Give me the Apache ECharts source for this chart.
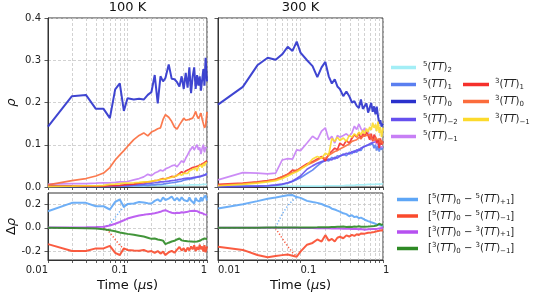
<!DOCTYPE html>
<html><head><meta charset="utf-8">
<script src="https://cdn.jsdelivr.net/npm/echarts@6.0.0/dist/echarts.min.js"></script>
<style>html,body{margin:0;padding:0;background:#fff}#c{width:536px;height:297px}</style>
</head><body><div id="c"></div>
<script>
// ---------------- data ----------------
const T = [0.01,0.02,0.03,0.04,0.05,0.06,0.07,0.08,0.09,0.10,
           0.12,0.14,0.16,0.18,0.20,0.22,0.24,0.26,0.28,0.30,
           0.33,0.36,0.39,0.42,0.45,0.48,0.51,0.54,0.57,0.60,
           0.63,0.66,0.69,0.72,0.75,0.78,0.81,0.84,0.87,0.90,
           0.93,0.96,1.00];
const X_MAJOR = [0.01, 0.1, 1];
const X_ALL = [0.01,0.02,0.03,0.04,0.05,0.06,0.07,0.08,0.09,0.1,0.2,0.3,0.4,0.5,0.6,0.7,0.8,0.9,1];
const Y_TOP_TICKS = [0, 0.1, 0.2, 0.3, 0.4];
const Y_BOT_TICKS = [-0.2, 0, 0.2];
const TITLES = ['100 K', '300 K'];

// 100 K populations
const p100_5TT2 = [0.002,0.002,0.002,0.002,0.002,0.002,0.002,0.002,0.002,0.002,
 0.002,0.002,0.002,0.003,0.003,0.003,0.003,0.003,0.003,0.003,
 0.003,0.003,0.003,0.004,0.004,0.004,0.004,0.004,0.004,0.004,
 0.005,0.005,0.005,0.005,0.005,0.005,0.005,0.005,0.006,0.006,
 0.006,0.006,0.006];
const p100_5TT1 = [0.001,0.001,0.001,0.001,0.001,0.001,0.002,0.002,0.002,0.002,
 0.003,0.003,0.004,0.004,0.005,0.005,0.006,0.006,0.007,0.008,
 0.009,0.010,0.011,0.012,0.013,0.014,0.016,0.015,0.018,0.020,
 0.019,0.022,0.021,0.024,0.023,0.026,0.024,0.028,0.026,0.030,
 0.028,0.032,0.033];
const p100_5TT0 = [0.143,0.215,0.218,0.185,0.185,0.163,0.231,0.245,0.180,0.210,
 0.207,0.209,0.207,0.218,0.225,0.265,0.198,0.262,0.250,0.258,
 0.290,0.256,0.255,0.248,0.238,0.262,0.232,0.270,0.235,0.283,
 0.222,0.262,0.283,0.232,0.265,0.240,0.262,0.228,0.255,0.279,
 0.240,0.306,0.250];
const p100_5TTm2 = [0.002,0.002,0.002,0.003,0.003,0.003,0.003,0.003,0.004,0.004,
 0.005,0.006,0.007,0.008,0.009,0.010,0.011,0.012,0.012,0.013,
 0.014,0.015,0.016,0.017,0.018,0.019,0.020,0.019,0.021,0.022,
 0.021,0.024,0.023,0.025,0.024,0.027,0.025,0.028,0.027,0.030,
 0.028,0.031,0.030];
const p100_5TTm1 = [0.007,0.008,0.008,0.009,0.010,0.010,0.011,0.012,0.012,0.013,
 0.017,0.020,0.024,0.030,0.027,0.033,0.036,0.040,0.038,0.043,
 0.046,0.050,0.052,0.048,0.055,0.062,0.058,0.068,0.076,0.084,
 0.080,0.096,0.088,0.092,0.100,0.088,0.094,0.078,0.092,0.100,
 0.082,0.094,0.092];
const p100_3TT1 = [0.002,0.002,0.002,0.002,0.002,0.003,0.003,0.004,0.005,0.006,
 0.007,0.009,0.010,0.012,0.013,0.015,0.016,0.018,0.020,0.019,
 0.022,0.025,0.024,0.028,0.032,0.036,0.033,0.038,0.036,0.042,
 0.040,0.046,0.044,0.048,0.046,0.050,0.047,0.053,0.050,0.056,
 0.052,0.060,0.062];
const p100_3TT0 = [0.005,0.015,0.020,0.026,0.033,0.046,0.064,0.076,0.086,0.096,
 0.112,0.122,0.128,0.121,0.130,0.134,0.138,0.140,0.160,0.171,
 0.165,0.155,0.142,0.137,0.147,0.155,0.163,0.158,0.156,0.160,
 0.158,0.163,0.170,0.179,0.168,0.162,0.168,0.175,0.160,0.162,
 0.140,0.145,0.178];
const p100_3TTm1 = [0.001,0.002,0.003,0.003,0.004,0.006,0.007,0.008,0.009,0.009,
 0.010,0.011,0.012,0.012,0.014,0.015,0.016,0.018,0.018,0.020,
 0.021,0.023,0.025,0.027,0.030,0.028,0.033,0.035,0.032,0.038,
 0.036,0.042,0.040,0.045,0.038,0.048,0.044,0.052,0.046,0.055,
 0.050,0.058,0.057];

// 300 K populations
const p300_5TT2 = [0.002,0.002,0.002,0.002,0.002,0.002,0.002,0.002,0.002,0.002,
 0.002,0.002,0.002,0.002,0.003,0.003,0.003,0.003,0.003,0.003,
 0.003,0.004,0.004,0.004,0.004,0.005,0.005,0.005,0.005,0.005,
 0.006,0.006,0.006,0.006,0.006,0.006,0.007,0.007,0.007,0.007,
 0.007,0.007,0.008];
const p300_5TT1 = [0.001,0.002,0.002,0.003,0.004,0.006,0.009,0.013,0.018,0.022,
 0.032,0.040,0.050,0.058,0.064,0.062,0.070,0.066,0.074,0.072,
 0.078,0.074,0.082,0.079,0.086,0.082,0.090,0.086,0.094,0.090,
 0.098,0.094,0.100,0.096,0.102,0.092,0.100,0.086,0.098,0.084,
 0.096,0.088,0.094];
const p300_5TT0 = [0.195,0.237,0.288,0.306,0.301,0.314,0.332,0.322,0.344,0.318,
 0.300,0.286,0.260,0.283,0.296,0.262,0.245,0.255,0.238,0.232,
 0.215,0.226,0.215,0.200,0.203,0.192,0.187,0.207,0.185,0.183,
 0.198,0.176,0.172,0.199,0.178,0.191,0.172,0.190,0.168,0.150,
 0.158,0.143,0.150];
const p300_5TTm2 = [0.001,0.001,0.002,0.003,0.005,0.007,0.010,0.014,0.020,0.026,
 0.042,0.050,0.056,0.060,0.062,0.066,0.064,0.070,0.068,0.074,
 0.076,0.080,0.078,0.084,0.082,0.088,0.086,0.092,0.090,0.096,
 0.094,0.100,0.098,0.104,0.100,0.106,0.102,0.108,0.104,0.110,
 0.102,0.108,0.104];
const p300_5TTm1 = [0.017,0.034,0.033,0.031,0.033,0.064,0.067,0.066,0.088,0.086,
 0.104,0.120,0.112,0.132,0.140,0.112,0.120,0.104,0.122,0.118,
 0.122,0.126,0.120,0.128,0.144,0.136,0.149,0.138,0.132,0.140,
 0.126,0.132,0.118,0.122,0.112,0.118,0.106,0.110,0.100,0.104,
 0.096,0.100,0.094];
const p300_3TT1 = [0.006,0.009,0.012,0.015,0.018,0.024,0.030,0.040,0.038,0.045,
 0.055,0.060,0.066,0.072,0.062,0.078,0.085,0.092,0.088,0.104,
 0.098,0.110,0.104,0.115,0.124,0.118,0.128,0.114,0.126,0.120,
 0.130,0.122,0.112,0.126,0.108,0.124,0.118,0.104,0.112,0.092,
 0.115,0.100,0.108];
const p300_3TT0 = [0.004,0.008,0.011,0.014,0.018,0.024,0.030,0.034,0.040,0.044,
 0.052,0.058,0.064,0.070,0.068,0.075,0.080,0.084,0.086,0.090,
 0.094,0.098,0.102,0.108,0.110,0.112,0.118,0.114,0.120,0.116,
 0.122,0.118,0.124,0.116,0.120,0.110,0.118,0.112,0.108,0.114,
 0.104,0.110,0.102];
const p300_3TTm1 = [0.003,0.006,0.009,0.012,0.015,0.020,0.026,0.032,0.036,0.042,
 0.052,0.066,0.072,0.068,0.080,0.076,0.115,0.108,0.118,0.110,
 0.116,0.108,0.122,0.118,0.126,0.120,0.130,0.124,0.134,0.126,
 0.138,0.130,0.142,0.135,0.152,0.140,0.148,0.132,0.155,0.128,
 0.142,0.118,0.140];

// 100 K differences
const d100_5p = [0.143,0.215,0.215,0.186,0.186,0.158,0.223,0.244,0.180,0.205,
 0.210,0.222,0.218,0.212,0.210,0.232,0.245,0.226,0.262,0.240,
 0.252,0.270,0.235,0.258,0.232,0.262,0.240,0.255,0.228,0.262,
 0.236,0.252,0.210,0.258,0.236,0.250,0.226,0.262,0.230,0.255,
 0.238,0.280,0.236];
const d100_5m = [-0.140,-0.200,-0.200,-0.177,-0.177,-0.155,-0.215,-0.234,-0.177,-0.190,
 -0.195,-0.198,-0.190,-0.205,-0.200,-0.215,-0.200,-0.222,-0.205,-0.235,
 -0.210,-0.198,-0.215,-0.188,-0.165,-0.195,-0.175,-0.205,-0.170,-0.195,
 -0.160,-0.185,-0.150,-0.200,-0.165,-0.190,-0.145,-0.185,-0.160,-0.205,
 -0.150,-0.210,-0.160];
const d100_3p = [0.002,0.003,0.005,0.007,0.010,0.020,0.035,0.050,0.065,0.080,
 0.096,0.106,0.112,0.118,0.122,0.126,0.132,0.138,0.148,0.152,
 0.140,0.130,0.126,0.130,0.128,0.134,0.132,0.140,0.138,0.142,
 0.146,0.150,0.148,0.156,0.144,0.150,0.132,0.138,0.126,0.130,
 0.116,0.110,0.112];
const d100_3m = [0.000,-0.002,-0.004,-0.006,-0.012,-0.020,-0.030,-0.040,-0.046,-0.052,
 -0.060,-0.068,-0.075,-0.085,-0.095,-0.092,-0.100,-0.104,-0.110,-0.140,
 -0.128,-0.118,-0.112,-0.100,-0.092,-0.108,-0.112,-0.120,-0.116,-0.124,
 -0.118,-0.126,-0.120,-0.132,-0.118,-0.128,-0.112,-0.124,-0.100,-0.110,
 -0.092,-0.104,-0.096];
const T_dot100 = [0.05,0.06,0.07,0.08,0.09,0.10];
const d100_5p_dot = [0.000,0.030,0.090,0.140,0.180,0.205];
const d100_5m_dot = [0.000,-0.040,-0.100,-0.150,-0.180,-0.190];

// 300 K differences
const d300_5p = [0.166,0.203,0.230,0.250,0.262,0.272,0.280,0.282,0.265,0.258,
 0.232,0.222,0.215,0.205,0.190,0.182,0.165,0.158,0.148,0.140,
 0.125,0.118,0.100,0.108,0.092,0.098,0.082,0.088,0.072,0.070,
 0.064,0.058,0.055,0.048,0.045,0.040,0.036,0.030,0.034,0.025,
 0.028,0.018,0.015];
const d300_5m = [-0.163,-0.190,-0.234,-0.254,-0.243,-0.235,-0.230,-0.240,-0.249,-0.205,
 -0.145,-0.130,-0.100,-0.118,-0.063,-0.110,-0.095,-0.118,-0.085,-0.077,
 -0.090,-0.065,-0.075,-0.060,-0.070,-0.055,-0.062,-0.048,-0.058,-0.050,
 -0.060,-0.042,-0.055,-0.040,-0.048,-0.035,-0.045,-0.030,-0.038,-0.025,
 -0.032,-0.020,-0.022];
const d300_3p = [0.000,0.000,0.000,0.000,0.000,0.000,0.000,0.000,0.000,-0.001,
 -0.002,-0.002,-0.003,-0.003,-0.004,-0.004,-0.005,-0.005,-0.006,-0.006,
 -0.007,-0.008,-0.008,-0.009,-0.010,-0.010,-0.012,-0.011,-0.014,-0.016,
 -0.014,-0.012,-0.013,-0.011,-0.012,-0.010,-0.008,-0.009,-0.006,-0.005,
 -0.004,-0.002,0.000];
const d300_3m = [0.000,0.001,0.001,0.002,0.002,0.002,0.002,0.002,0.002,0.002,
 0.003,0.003,0.004,0.005,0.005,0.006,0.008,0.007,0.009,0.010,
 0.012,0.008,0.010,0.007,0.012,0.010,0.013,0.009,0.012,0.010,
 0.014,0.012,0.016,0.014,0.018,0.016,0.022,0.020,0.028,0.035,
 0.030,0.026,0.030];
const T_dot300 = [0.05,0.06,0.07,0.08,0.09];
const d300_5p_dot = [0.005,0.120,0.190,0.235,0.262];
const d300_5m_dot = [-0.005,-0.090,-0.160,-0.210,-0.245];

// legend labels (rich text)
const SUP = (s) => '{s|' + s + '}';
const SUB = (s) => '{b|' + s + '}';
const TT = (m, k) => SUP(m) + '{n|(}{i|TT}{n|)}' + SUB(k);
const LABELS = {
  '5TT2': TT('5','2'), '5TT1': TT('5','1'), '5TT0': TT('5','0'),
  '5TTm2': TT('5','\u22122'), '5TTm1': TT('5','\u22121'),
  '3TT1': TT('3','1'), '3TT0': TT('3','0'), '3TTm1': TT('3','\u22121'),
  'd5p': '{n|[}' + TT('5','0') + '{n| \u2212 }' + TT('5','+1') + '{n|]}',
  'd5m': '{n|[}' + TT('5','0') + '{n| \u2212 }' + TT('5','\u22121') + '{n|]}',
  'd3p': '{n|[}' + TT('3','0') + '{n| \u2212 }' + TT('3','+1') + '{n|]}',
  'd3m': '{n|[}' + TT('3','0') + '{n| \u2212 }' + TT('3','\u22121') + '{n|]}'
};
const COLORS = {
  '5TT2':'#a3eef6', '5TT1':'#5a7ff0', '5TT0':'#2a31cc', '5TTm2':'#6650ee', '5TTm1':'#c77ff5',
  '3TT1':'#f5302c', '3TT0':'#fb6c3c', '3TTm1':'#fcda2c',
  'd5p':'#5ea6f6', 'd5m':'#fa4a2c', 'd3p':'#b650f0', 'd3m':'#2e8a25'
};

// ---------------- chart ----------------
const FONT = 'DejaVu Sans';
const GRIDC = '#c6c6c6';
const P = (ts, vs) => ts.map((t, i) => [t, vs[i]]);

function xAxis(gi, labels, align) {
  return {
    type: 'log', logBase: 10, gridIndex: gi, min: 0.01, max: 1,
    axisLine: {show: true, onZero: false, lineStyle: {color: '#333', width: 1}},
    axisTick: {show: true, customValues: X_ALL, length: 3, lineStyle: {color: '#333', width: 0.8}},
    axisLabel: {show: labels, customValues: X_MAJOR, align: align, margin: 5, fontSize: 10,
      fontFamily: FONT, color: '#222',
      formatter: v => (v < 0.05 ? '0.01' : (v < 0.5 ? '0.1' : '1'))},
    splitLine: {show: true, lineStyle: {color: GRIDC, width: 0.8, type: [3, 2]}},
    minorTick: {show: false}, minorSplitLine: {show: false}
  };
}
function yAxis(gi, labels, min, max, ticks) {
  return {
    type: 'value', gridIndex: gi, min: min, max: max,
    axisLine: {show: true, onZero: false, lineStyle: {color: '#333', width: 1}},
    axisTick: {show: true, customValues: ticks, length: 3.5, lineStyle: {color: '#333', width: 0.8}},
    axisLabel: {show: labels, customValues: ticks, margin: 7, fontSize: 10, fontFamily: FONT, color: '#222',
      formatter: v => (Math.abs(v) < 1e-9 ? 0 : v).toFixed(1)},
    splitLine: {show: true, lineStyle: {color: GRIDC, width: 0.8, type: [3, 2]}}
  };
}
function line(name, ai, ts, vs, width, dotted) {
  const c = COLORS[name];
  return {
    type: 'line', name: name, xAxisIndex: ai, yAxisIndex: ai, data: P(ts, vs),
    showSymbol: false, symbol: 'none', animation: false, silent: true,
    lineStyle: {color: c, width: width, opacity: 0.9, type: dotted ? [1.2, 2] : 'solid'},
    itemStyle: {color: c}
  };
}

const topNames = ['5TT2','5TT1','5TT0','5TTm2','5TTm1','3TT1','3TT0','3TTm1'];
const top100 = [p100_5TT2,p100_5TT1,p100_5TT0,p100_5TTm2,p100_5TTm1,p100_3TT1,p100_3TT0,p100_3TTm1];
const top300 = [p300_5TT2,p300_5TT1,p300_5TT0,p300_5TTm2,p300_5TTm1,p300_3TT1,p300_3TT0,p300_3TTm1];

const series = [];
topNames.forEach((n, i) => series.push(line(n, 0, T, top100[i], n === '5TT0' ? 2 : 1.7)));
topNames.forEach((n, i) => series.push(line(n, 1, T, top300[i], n === '5TT0' ? 2 : 1.7)));
series.push(line('d5p', 2, T, d100_5p, 2));
series.push(line('d5p', 2, T_dot100, d100_5p_dot, 1.5, true));
series.push(line('d5m', 2, T, d100_5m, 2));
series.push(line('d5m', 2, T_dot100, d100_5m_dot, 1.5, true));
series.push(line('d3p', 2, T, d100_3p, 2));
series.push(line('d3m', 2, T, d100_3m, 2));
series.push(line('d5p', 3, T, d300_5p, 2));
series.push(line('d5p', 3, T_dot300, d300_5p_dot, 1.5, true));
series.push(line('d5m', 3, T, d300_5m, 2));
series.push(line('d5m', 3, T_dot300, d300_5m_dot, 1.5, true));
series.push(line('d3p', 3, T, d300_3p, 2));
series.push(line('d3m', 3, T, d300_3m, 2));

const rich = {
  n: {fontSize: 10, fontFamily: FONT, color: '#222'},
  i: {fontSize: 10, fontFamily: FONT, fontStyle: 'italic', color: '#222'},
  s: {fontSize: 7, fontFamily: FONT, color: '#222', padding: [0, 0, 6, 0]},
  b: {fontSize: 7, fontFamily: FONT, color: '#222', padding: [5, 0, 0, 0]}
};
function leg(name, left, cy, w, gap) {
  return {
    data: [name], left: left, top: cy - 7, padding: 0, orient: 'vertical',
    itemWidth: w, itemHeight: 3.5, icon: 'rect', selectedMode: false,
    textStyle: {fontSize: 10, fontFamily: FONT, rich: rich, padding: [0, 0, 0, gap]},
    formatter: n => LABELS[n]
  };
}
const legends = [
  leg('5TT2', 391, 68, 25, 2), leg('5TT1', 391, 85, 25, 2), leg('5TT0', 391, 102, 25, 2),
  leg('5TTm2', 391, 120, 25, 2), leg('5TTm1', 391, 137, 25, 2),
  leg('3TT1', 463, 85, 26, 1), leg('3TT0', 463, 102, 26, 1), leg('3TTm1', 463, 120, 26, 1),
  leg('d5p', 397, 200, 21, 5), leg('d5m', 397, 216.5, 21, 5),
  leg('d3p', 397, 232.5, 21, 5), leg('d3m', 397, 249, 21, 5)
];

const gridBase = {show: true, borderColor: '#333', borderWidth: 1, containLabel: false};
const txt = (x, y, text, size, rot, extraRich) => ({
  type: 'text', x: x, y: y, rotation: rot || 0, silent: true,
  style: {text: text, fill: '#111', fontSize: size, fontFamily: FONT, align: 'center', verticalAlign: 'middle',
    rich: extraRich || {}}
});
const mathRich = {
  it: {fontSize: 13, fontFamily: FONT, fontStyle: 'italic', fill: '#111', color: '#111'},
  up: {fontSize: 13, fontFamily: FONT, fill: '#111', color: '#111'}
};

const option = {
  animation: false,
  backgroundColor: '#fff',
  grid: [
    Object.assign({left: 48, top: 18, width: 159, height: 169}, gridBase),
    Object.assign({left: 218, top: 18, width: 165, height: 169}, gridBase),
    Object.assign({left: 48, top: 193, width: 159, height: 67}, gridBase),
    Object.assign({left: 218, top: 193, width: 165, height: 67}, gridBase)
  ],
  xAxis: [xAxis(0, false, 'center'), xAxis(1, false, 'center'), xAxis(2, true, 'right'), xAxis(3, true, 'left')],
  yAxis: [
    yAxis(0, true, 0, 0.4, Y_TOP_TICKS), yAxis(1, false, 0, 0.4, Y_TOP_TICKS),
    yAxis(2, true, -0.277, 0.30, Y_BOT_TICKS), yAxis(3, false, -0.277, 0.30, Y_BOT_TICKS)
  ],
  legend: legends,
  series: series,
  graphic: [
    txt(127.5, 8, TITLES[0], 13), txt(300.5, 8, TITLES[1], 13),
    txt(12, 102.5, '{it|\u03c1}', 13, Math.PI / 2, mathRich),
    txt(12, 226.5, '{up|\u0394}{it|\u03c1}', 13, Math.PI / 2, mathRich),
    txt(127.5, 286, '{up|Time (}{it|\u03bc}{up|s)}', 13, 0, mathRich),
    txt(300.5, 286, '{up|Time (}{it|\u03bc}{up|s)}', 13, 0, mathRich)
  ]
};
const chart = echarts.init(document.getElementById('c'), null, {renderer: 'canvas'});
chart.setOption(option);
</script></body></html>
